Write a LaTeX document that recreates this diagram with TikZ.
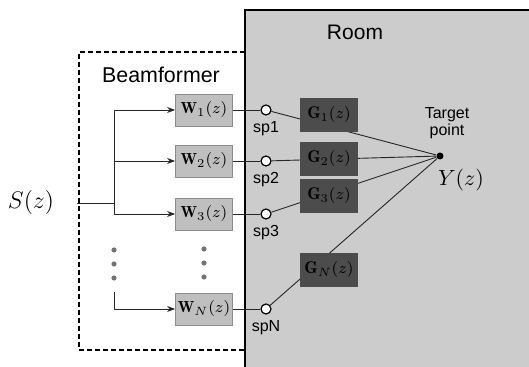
\documentclass[tikz,border=0pt]{standalone}
\usepackage{amsmath,amssymb}
\usepackage{fontspec}
\setsansfont{Liberation Sans}
\usetikzlibrary{positioning,arrows.meta}

\tikzset{
  wbox/.style={draw=black!45, fill=black!25, minimum width=28.5pt, minimum height=16pt, inner sep=0pt, font=\fontsize{8}{9}\selectfont},
  gbox/.style={fill=black!70, minimum width=29pt, minimum height=17pt, inner sep=0pt, font=\fontsize{8.5}{9}\selectfont},
  spk/.style={circle, draw, fill=white, line width=0.6pt, minimum size=5pt, inner sep=0pt},
  splabel/.style={font=\sffamily\fontsize{8}{9}\selectfont, inner sep=0pt},
  feed/.style={draw=black!85, line width=0.45pt},
  vdot/.style={circle, fill=black!55, inner sep=0pt, minimum size=2.6pt},
}

\begin{document}
\begin{tikzpicture}[x=0.5pt, y=-0.5pt]
  \useasboundingbox (0,0) rectangle (529,367);

  % Room
  \fill[black!20] (245,10) rectangle (529,367);
  \draw[line width=1.2pt] (245,367) -- (245,10) -- (529,10);
  \node[font=\sffamily\fontsize{10.5}{12}\selectfont] (room) at (355,32) {Room};

  % Beamformer frame
  \draw[line width=0.8pt, dash pattern=on 2.5pt off 1.5pt] (245,52) -- (79,52) -- (79,350) -- (245,350);
  \node[font=\sffamily\fontsize{10.7}{12}\selectfont] (bf) at (161,75) {Beamformer};

  % Filters and loudspeakers
  \foreach \i/\y in {1/110, 2/161, 3/214, N/309} {
    \node[wbox] (w\i) at (204,\y) {$\mathbf{W}_{\i}(z)$};
    \node[spk] (sp\i) at (266,\y) {};
    \node[splabel, below=2.5pt of sp\i] (lab\i) {sp\i};
    \draw[feed] (w\i) -- (sp\i);
  }

  % Target point
  \node[circle, fill, inner sep=0pt, minimum size=3.5pt] (tp) at (440,156) {};
  \node[align=center, font=\sffamily\fontsize{8}{8.5}\selectfont] (tplab) at (447,123) {Target\\point};
  \node[font=\fontsize{11}{12}\selectfont] (yz) at (461,180) {$Y(z)$};

  % Acoustic paths
  \foreach \i in {1,2,3,N}
    \draw[feed] (sp\i) -- (tp);
  \foreach \i/\y in {1/115, 2/159, 3/196, N/270}
    \node[gbox] (g\i) at (329,\y) {$\mathbf{G}_{\i}(z)$};

  % Source and splitting
  \node[font=\fontsize{12}{14}\selectfont] (src) at (31,203) {$S(z)$};
  \coordinate (split) at (114,203);
  \coordinate (tN) at (114,292);
  \draw[feed, shorten <=8pt] (src) -- (split);
  \draw[feed] (split |- w1) -- (split |- w3);
  \foreach \i in {1,2,3}
    \draw[feed, -{Stealth[length=4pt, width=3pt]}] (split |- w\i) -- (w\i);
  \draw[feed, -{Stealth[length=4pt, width=3pt]}] (tN) -- (split |- wN) -- (wN);

  % Dots
  \foreach \y in {250,264,278} {
    \node[vdot] (da\y) at (114,\y) {};
    \node[vdot] (db\y) at (204,\y-1) {};
  }
\end{tikzpicture}
\end{document}
